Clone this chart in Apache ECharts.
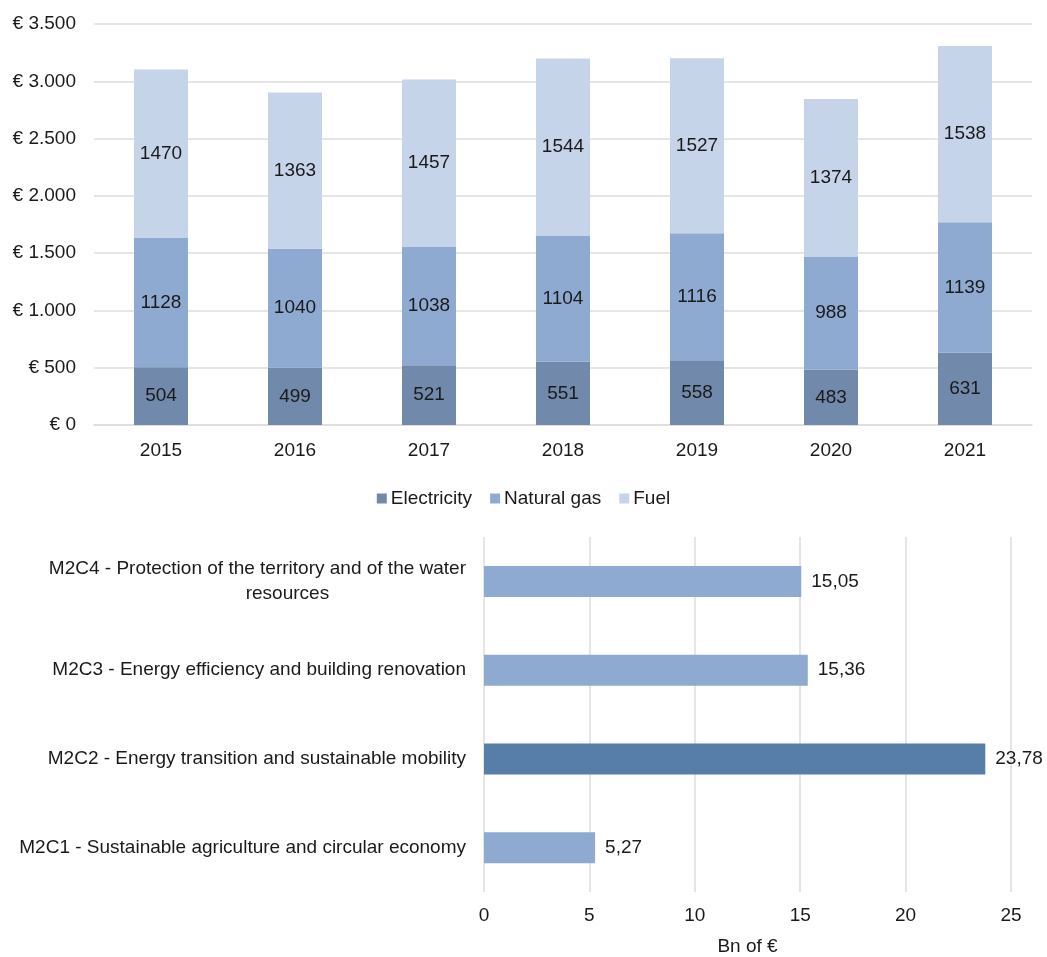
<!DOCTYPE html>
<html>
<head>
<meta charset="utf-8">
<script src="https://cdn.jsdelivr.net/npm/echarts@6/dist/echarts.min.js"></script>
<style>html,body{margin:0;padding:0;background:#fff;}#c{width:1047px;height:957px;}</style>
</head>
<body>
<div id="c"></div>
<script>
const years = ['2015','2016','2017','2018','2019','2020','2021'];
const electricity = [504, 499, 521, 551, 558, 483, 631];
const naturalGas = [1128, 1040, 1038, 1104, 1116, 988, 1139];
const fuel = [1470, 1363, 1457, 1544, 1527, 1374, 1538];
const seriesNames = ['Electricity', 'Natural gas', 'Fuel'];

const components = [
  'M2C1 - Sustainable agriculture and circular economy',
  'M2C2 - Energy transition and sustainable mobility',
  'M2C3 - Energy efficiency and building renovation',
  'M2C4 - Protection of the territory and of the water\nresources'
];
const funding = [5.27, 23.78, 15.36, 15.05];
const highlightIndex = 1;

const FONT = '"Liberation Sans", Arial, Helvetica, sans-serif';
const TXT = '#1a1a1a';
const GRID = '#dcdcdc';
const colors = ['#7189ab', '#8eaad1', '#c6d4e9'];
const FS = 19;

function euro(v) {
  return '€ ' + String(v).replace(/\B(?=(\d{3})+(?!\d))/g, '.');
}

const chart = echarts.init(document.getElementById('c'), null, {renderer: 'canvas'});
const stackLabel = {show: true, position: 'inside', color: TXT, fontSize: FS, fontFamily: FONT};

chart.setOption({
  animation: false,
  textStyle: {fontFamily: FONT},
  legend: {
    data: seriesNames,
    top: 484, left: 'center',
    itemWidth: 10, itemHeight: 10, itemGap: 18,
    icon: 'rect',
    textStyle: {fontSize: FS, color: TXT, fontFamily: FONT, padding: [0, 0, 0, -1]}
  },
  grid: [
    {left: 94, right: 15, top: 24, height: 401, containLabel: false},
    {left: 484, width: 527, top: 537, height: 356, containLabel: false}
  ],
  xAxis: [
    {
      gridIndex: 0, type: 'category', data: years,
      axisLine: {lineStyle: {color: GRID, width: 1.5}},
      axisTick: {show: false},
      axisLabel: {color: TXT, fontSize: FS, margin: 16, fontFamily: FONT}
    },
    {
      gridIndex: 1, type: 'value', min: 0, max: 25, interval: 5,
      axisLine: {show: false}, axisTick: {show: false},
      splitLine: {lineStyle: {color: GRID, width: 1.5}},
      axisLabel: {color: TXT, fontSize: FS, margin: 14, fontFamily: FONT},
      name: 'Bn of €', nameLocation: 'middle', nameGap: 45,
      nameTextStyle: {color: TXT, fontSize: FS, fontFamily: FONT}
    }
  ],
  yAxis: [
    {
      gridIndex: 0, type: 'value', min: 0, max: 3500, interval: 500,
      axisLine: {show: false}, axisTick: {show: false},
      splitLine: {lineStyle: {color: GRID, width: 1.5}},
      axisLabel: {color: TXT, fontSize: FS, margin: 18, fontFamily: FONT, formatter: euro}
    },
    {
      gridIndex: 1, type: 'category', data: components,
      axisLine: {show: false}, axisTick: {show: false},
      axisLabel: {
        color: TXT, fontSize: FS, margin: 18, fontFamily: FONT, lineHeight: 25,
        formatter: function (v) {
          const parts = v.split('\n');
          if (parts.length === 1) return '{a|' + v + '}';
          return '{a|' + parts[0] + '}\n{b|' + parts[1] + '}';
        },
        rich: {
          a: {fontSize: FS, color: TXT, fontFamily: FONT, lineHeight: 25},
          b: {fontSize: FS, color: TXT, fontFamily: FONT, lineHeight: 25, align: 'center', padding: [0, 0, 0, 60]}
        }
      }
    }
  ],
  series: [
    {name: seriesNames[0], type: 'bar', stack: 's', xAxisIndex: 0, yAxisIndex: 0, data: electricity,
     barWidth: 54, itemStyle: {color: colors[0]}, label: stackLabel},
    {name: seriesNames[1], type: 'bar', stack: 's', xAxisIndex: 0, yAxisIndex: 0, data: naturalGas,
     barWidth: 54, itemStyle: {color: colors[1]}, label: stackLabel},
    {name: seriesNames[2], type: 'bar', stack: 's', xAxisIndex: 0, yAxisIndex: 0, data: fuel,
     barWidth: 54, itemStyle: {color: colors[2]}, label: stackLabel},
    {
      name: 'Funding', type: 'bar', xAxisIndex: 1, yAxisIndex: 1,
      data: funding.map((v, i) => ({value: v, itemStyle: {color: i === highlightIndex ? '#577ea9' : '#8eaad1'}})),
      barWidth: 31,
      label: {
        show: true, position: 'right', distance: 10, color: TXT, fontSize: FS, fontFamily: FONT,
        formatter: p => p.value.toFixed(2).replace('.', ',')
      }
    }
  ]
});
</script>
</body>
</html>
